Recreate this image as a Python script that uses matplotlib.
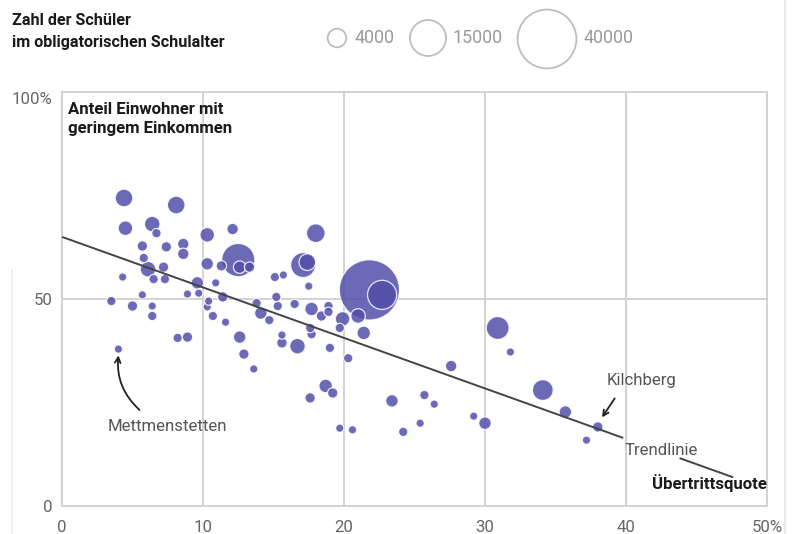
import matplotlib
matplotlib.use("Agg")
import matplotlib.pyplot as plt
from matplotlib import font_manager as fm
import numpy as np

# ---------------- data ----------------
uebertritt = [4.4, 8.1, 4.5, 6.4, 6.7, 10.3, 12.1, 18.0, 5.7, 7.4, 8.6, 8.6, 5.8, 7.2, 6.1,
              10.3, 12.5, 12.6, 13.3, 11.3, 17.1, 17.4, 15.1, 15.7, 4.3, 6.5, 7.3, 9.6, 10.9,
              9.7, 8.9, 5.7, 3.5, 5.0, 6.4, 6.4, 10.4, 10.3, 10.7, 11.6, 11.4, 8.2, 8.9, 4.0,
              17.5, 13.8, 14.1, 14.7, 15.2, 15.3, 16.5, 17.7, 18.9, 18.9, 18.4, 12.6, 15.6,
              15.6, 16.7, 17.6, 17.7, 19.0, 19.7, 19.9, 20.3, 21.0, 21.4, 12.9, 13.6, 18.7,
              19.2, 17.6, 19.7, 20.6, 21.8, 22.7, 23.4, 25.7, 26.4, 24.2, 25.4, 27.6, 29.2,
              30.0, 30.9, 31.8, 34.1, 35.7, 38.0, 37.2]
einkommen = [74.4, 72.7, 67.1, 68.1, 65.9, 65.5, 66.9, 65.9, 62.8, 62.6, 63.3, 60.9, 59.9,
             57.7, 57.2, 58.5, 59.4, 57.7, 57.7, 58.0, 58.2, 58.9, 55.3, 55.8, 55.3, 54.8,
             54.8, 53.9, 53.9, 51.4, 51.2, 51.0, 49.5, 48.3, 48.3, 45.9, 49.5, 48.1, 45.9,
             44.4, 50.5, 40.6, 40.8, 37.9, 53.1, 49.0, 46.6, 44.9, 50.5, 48.3, 48.8, 47.6,
             48.3, 46.9, 45.9, 40.8, 41.3, 39.4, 38.6, 43.0, 41.5, 38.2, 43.0, 45.2, 35.7,
             45.9, 41.8, 36.7, 33.1, 29.0, 27.3, 26.1, 18.8, 18.4, 52.2, 51.0, 25.4, 26.8,
             24.6, 17.9, 20.0, 33.8, 21.7, 20.0, 43.0, 37.2, 28.0, 22.7, 19.1, 15.9]
schueler = [3340, 3340, 2270, 2600, 940, 2270, 1400, 3750, 1160, 1160, 1400, 1400, 940, 1160,
            2600, 1670, 11850, 1670, 1160, 1160, 6670, 2960, 940, 740, 740, 940, 940, 1670,
            740, 740, 740, 740, 940, 1160, 740, 940, 740, 740, 940, 740, 1160, 940, 1160, 740,
            740, 940, 1670, 940, 940, 940, 940, 1960, 940, 940, 1160, 1670, 740, 1160, 2600,
            940, 940, 940, 940, 2270, 940, 2270, 1960, 1160, 740, 1960, 1160, 1160, 740, 740,
            38900, 9070, 1670, 940, 740, 940, 740, 1400, 740, 1670, 5600, 740, 4630, 1670,
            1160, 740]

legend_values = [4000, 15000, 40000]
trend_intercept = 65.0
trend_slope = -1.22
trend_segments = [(0.0, 39.8), (43.8, 47.6)]

x_ticks = [0, 10, 20, 30, 40, 50]
x_ticklabels = ["0", "10", "20", "30", "40", "50%"]
y_ticks = [0, 50, 100]
y_ticklabels = ["0", "50", "100%"]

# ---------------- fonts ----------------
names = {f.name for f in fm.fontManager.ttflist}
if "Liberation Sans Narrow" in names:
    FAM = ["Liberation Sans Narrow", "DejaVu Sans"]
    K = 1.0
else:
    FAM = ["Roboto", "DejaVu Sans"]
    K = 0.86
plt.rcParams["font.family"] = FAM

W, H = 792, 534
fig = plt.figure(figsize=(W / 100, H / 100), dpi=100)
fig.patch.set_facecolor("white")

L, R, T, B = 62, 767, 92, 506
ax = fig.add_axes([L / W, 1 - B / H, (R - L) / W, (B - T) / H])
ax.set_xlim(0, 50)
ax.set_ylim(0, 100)

GRID = "#d2d2d2"
for s in ax.spines.values():
    s.set_color(GRID)
    s.set_linewidth(1.4)
ax.set_xticks(x_ticks)
ax.set_xticklabels(x_ticklabels)
ax.set_yticks(y_ticks)
ax.set_yticklabels(y_ticklabels)
ax.tick_params(length=0, labelsize=14 * K, labelcolor="#666666")
ax.tick_params(axis="x", pad=10)
ax.tick_params(axis="y", pad=7)
for lbl in ax.get_yticklabels():
    if lbl.get_text() == "100%":
        lbl.set_va("top")
for gx in [10, 20, 30, 40]:
    ax.axvline(gx, color=GRID, lw=1.4, zorder=0)
ax.axhline(50, color=GRID, lw=1.4, zorder=0)


def size_pt2(n):
    d_px = 36.0 * np.sqrt(np.asarray(n, dtype=float) / 15000.0)
    return (d_px * 0.72) ** 2


order = np.argsort(schueler)[::-1]
xs = np.array(uebertritt)[order]
ys = np.array(einkommen)[order]
ns = np.array(schueler)[order]
ax.scatter(xs, ys, s=size_pt2(ns) * 1.08, color="#524fa9", alpha=0.85,
           edgecolors="white", linewidths=0.9, zorder=3)

# trend line
for x0, x1 in trend_segments:
    xx = np.array([x0, x1])
    ax.plot(xx, trend_intercept + trend_slope * xx, color="#444444", lw=1.4, zorder=4,
            solid_capstyle="butt")

# annotations
ax.text(0.45, 97.6, "Anteil Einwohner mit\ngeringem Einkommen", fontsize=14 * K,
        fontweight="bold", color="#1a1a1a", va="top", ha="left", linespacing=1.3)
ax.text(3.25, 19.1, "Mettmenstetten", fontsize=14 * K, color="#555555", va="center", ha="left")
ax.annotate("", xy=(4.0, 36.4), xytext=(5.5, 23.2),
            arrowprops=dict(arrowstyle="->", color="#222222", lw=1.3,
                            connectionstyle="arc3,rad=-0.25", shrinkA=0, shrinkB=0))
ax.text(38.65, 30.4, "Kilchberg", fontsize=14 * K, color="#555555", va="center", ha="left")
ax.annotate("", xy=(38.3, 21.4), xytext=(39.2, 26.0),
            arrowprops=dict(arrowstyle="->", color="#222222", lw=1.3,
                            shrinkA=0, shrinkB=0))
ax.text(39.9, 13.5, "Trendlinie", fontsize=14 * K, color="#555555", va="center", ha="left")
ax.text(50.0, 5.6, "Übertrittsquote", fontsize=14 * K, fontweight="bold", color="#1a1a1a",
        va="center", ha="right")

# header / legend (overlay in pixel coordinates)
ov = fig.add_axes([0, 0, 1, 1], zorder=-1)
ov.set_xlim(0, W)
ov.set_ylim(H, 0)
ov.axis("off")
ov.plot([785, 785], [0, H], color="#e6e6e6", lw=1.2)
ov.plot([12, 12], [270, H], color="#eeeeee", lw=1.2)

fig.text(12 / W, 1 - 13 / H, "Zahl der Schüler\nim obligatorischen Schulalter",
         fontsize=13.5 * K, fontweight="bold", color="#1a1a1a", va="top", ha="left",
         linespacing=1.55)

leg_cx = [337, 428, 547]
leg_tx = [355, 453, 584]
ov.scatter(leg_cx, [38, 38, 39], s=size_pt2(legend_values), facecolors="none",
           edgecolors="#bdbdbd", linewidths=1.3)
for tx, v in zip(leg_tx, legend_values):
    ov.text(tx, 38, str(v), fontsize=15 * K, color="#9a9a9a", va="center", ha="left")

fig.savefig("out.png", dpi=100, facecolor="white")
